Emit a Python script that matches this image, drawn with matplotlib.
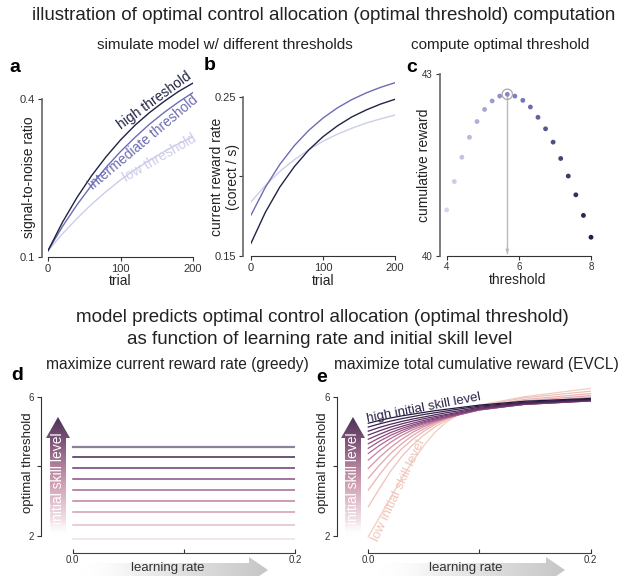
import numpy as np
import matplotlib
matplotlib.use("Agg")
import matplotlib.pyplot as plt
from matplotlib.colors import LinearSegmentedColormap
from matplotlib.patches import Polygon

plt.rcParams['font.family'] = ['Liberation Sans', 'DejaVu Sans']
plt.rcParams['text.color'] = '#222222'
plt.rcParams['axes.edgecolor'] = '#333333'
plt.rcParams['xtick.color'] = '#333333'
plt.rcParams['ytick.color'] = '#333333'

W, H = 626, 576

# --- panel a / b : simulated learning curves ---
trials = [0, 20, 40, 60, 80, 100, 120, 140, 160, 180, 200]
snr_high = [0.112, 0.166, 0.213, 0.254, 0.290, 0.322, 0.350, 0.374, 0.395, 0.414, 0.430]
snr_mid = [0.112, 0.158, 0.199, 0.236, 0.270, 0.300, 0.327, 0.352, 0.374, 0.394, 0.412]
snr_low = [0.112, 0.144, 0.173, 0.200, 0.224, 0.246, 0.266, 0.283, 0.300, 0.315, 0.328]

rr_high = [0.158, 0.1775, 0.1933, 0.2060, 0.2165, 0.2249, 0.2317, 0.2373, 0.2417, 0.2454, 0.2484]
rr_mid = [0.1757, 0.1932, 0.2075, 0.2192, 0.2288, 0.2366, 0.2430, 0.2482, 0.2524, 0.2559, 0.2588]
rr_low = [0.184, 0.1943, 0.2031, 0.2104, 0.2167, 0.2220, 0.2265, 0.2302, 0.2335, 0.2361, 0.2385]

# --- panel c : cumulative reward per threshold ---
thresholds = [4.0, 4.21, 4.42, 4.63, 4.84, 5.05, 5.26, 5.47, 5.68, 5.89,
              6.11, 6.32, 6.53, 6.74, 6.95, 7.16, 7.37, 7.58, 7.79, 8.0]
cum_reward = [40.76, 41.23, 41.63, 41.96, 42.22, 42.42, 42.56, 42.64, 42.67, 42.64,
              42.57, 42.46, 42.29, 42.10, 41.88, 41.61, 41.32, 41.01, 40.67, 40.31]
best_idx = 8

# --- panel d : greedy optimal threshold (flat in learning rate) ---
greedy_lr = [0.0, 0.2]
greedy_thr = [4.56, 4.26, 3.95, 3.65, 3.33, 3.01, 2.68, 2.31, 1.91]  # high -> low skill

# --- panel e : EVCL optimal threshold vs learning rate ---
evcl_lr = [0.0, 0.01, 0.02, 0.03, 0.04, 0.05, 0.06, 0.07, 0.08, 0.1, 0.14, 0.2]
evcl_thr = [  # high -> low initial skill
    [5.24, 5.32, 5.39, 5.45, 5.50, 5.55, 5.60, 5.64, 5.68, 5.76, 5.87, 5.95],
    [5.13, 5.22, 5.30, 5.37, 5.43, 5.49, 5.54, 5.59, 5.64, 5.73, 5.84, 5.93],
    [5.01, 5.12, 5.21, 5.29, 5.36, 5.42, 5.48, 5.54, 5.59, 5.70, 5.82, 5.91],
    [4.90, 5.02, 5.13, 5.22, 5.30, 5.37, 5.43, 5.49, 5.55, 5.67, 5.80, 5.89],
    [4.78, 4.92, 5.05, 5.15, 5.24, 5.32, 5.39, 5.46, 5.52, 5.65, 5.78, 5.88],
    [4.65, 4.82, 4.97, 5.09, 5.19, 5.28, 5.36, 5.43, 5.50, 5.63, 5.78, 5.88],
    [4.52, 4.72, 4.89, 5.03, 5.15, 5.25, 5.33, 5.41, 5.48, 5.62, 5.78, 5.89],
    [4.37, 4.60, 4.80, 4.97, 5.11, 5.22, 5.31, 5.39, 5.47, 5.62, 5.79, 5.91],
    [4.18, 4.45, 4.69, 4.89, 5.05, 5.18, 5.29, 5.39, 5.47, 5.63, 5.81, 5.94],
    [3.94, 4.26, 4.54, 4.78, 4.98, 5.14, 5.27, 5.38, 5.47, 5.65, 5.84, 5.98],
    [3.66, 4.03, 4.37, 4.65, 4.89, 5.08, 5.24, 5.37, 5.48, 5.67, 5.88, 6.03],
    [3.32, 3.76, 4.16, 4.50, 4.78, 5.01, 5.20, 5.36, 5.48, 5.70, 5.92, 6.09],
    [2.84, 3.36, 3.86, 4.28, 4.62, 4.90, 5.13, 5.32, 5.47, 5.73, 5.97, 6.16],
    [1.98, 2.53, 3.10, 3.65, 4.15, 4.60, 4.98, 5.27, 5.46, 5.76, 6.00, 6.24],
]

c_high, c_mid, c_low = '#1f2444', '#6c6cb4', '#cdcdea'

fig = plt.figure(figsize=(W / 100, H / 100), dpi=100)


def add_ax(x0, x1, ytop, ybot):
    return fig.add_axes([x0 / W, 1 - ybot / H, (x1 - x0) / W, (ybot - ytop) / H])


def ftext(x, y, s, **kw):
    fig.text(x / W, 1 - y / H, s, ha=kw.pop('ha', 'center'), va=kw.pop('va', 'center'), **kw)


def style(ax, offset_px, tsize=8):
    for s in ['top', 'right']:
        ax.spines[s].set_visible(False)
    ax.spines['left'].set_position(('outward', offset_px * 0.72))
    ax.spines['left'].set_color('#666666')
    ax.spines['left'].set_linewidth(1.2)
    ax.tick_params(labelsize=tsize, length=3, width=0.8, pad=2)
    ax.patch.set_alpha(0)


# titles
ftext(324, 16, 'illustration of optimal control allocation (optimal threshold) computation', fontsize=13.5)
ftext(225, 45, 'simulate model w/ different thresholds', fontsize=11)
ftext(500, 45, 'compute optimal threshold', fontsize=11)
ftext(322, 317, 'model predicts optimal control allocation (optimal threshold)', fontsize=13.5)
ftext(320, 339, 'as function of learning rate and initial skill level', fontsize=13.5)
ftext(177, 364, 'maximize current reward rate (greedy)', fontsize=11.2)
ftext(476, 364, 'maximize total cumulative reward (EVCL)', fontsize=11.2)
for lab, x, y in [('a', 15, 67), ('b', 210, 66), ('c', 412, 67), ('d', 17, 376), ('e', 322, 378)]:
    ftext(x, y, lab, fontsize=14, fontweight='bold', color='black')

# ---------------- panel a ----------------
ax = add_ax(48, 193, 77.8, 257)
ax.plot(trials, snr_low, color=c_low, lw=1.0)
ax.plot(trials, snr_mid, color=c_mid, lw=1.0)
ax.plot(trials, snr_high, color=c_high, lw=1.0)
ax.set_xlim(0, 200)
ax.set_ylim(0.1, 0.44)
ax.spines['left'].set_bounds(0.1, 0.4)
ax.set_xticks([0, 100, 200])
ax.set_yticks([0.1, 0.4])
style(ax, 6)
ax.text(147, 0.397, 'high threshold', rotation=36, color=c_high, fontsize=10, ha='center', va='center')
ax.text(131, 0.318, 'intermediate threshold', rotation=40, color=c_mid, fontsize=10, ha='center', va='center')
ax.text(154, 0.287, 'low threshold', rotation=30, color=c_low, fontsize=10, ha='center', va='center')
ftext(29, 177, 'signal-to-noise ratio', rotation=90, fontsize=10)
ftext(120, 281, 'trial', fontsize=10)

# ---------------- panel b ----------------
ax = add_ax(251, 395, 80.8, 256)
ax.plot(trials, rr_low, color=c_low, lw=1.0)
ax.plot(trials, rr_mid, color=c_mid, lw=1.0)
ax.plot(trials, rr_high, color=c_high, lw=1.0)
ax.set_xlim(0, 200)
ax.set_ylim(0.15, 0.26)
ax.spines['left'].set_bounds(0.15, 0.25)
ax.set_xticks([0, 100, 200])
ax.set_yticks([0.15, 0.2, 0.25])
ax.set_yticklabels(['0.15', '', '0.25'])
style(ax, 8)
ftext(225, 177, 'current reward rate\n(corect / s)', rotation=90, fontsize=10, linespacing=1.1)
ftext(323, 281, 'trial', fontsize=10)

# ---------------- panel c ----------------
ax = add_ax(446.7, 591, 74.3, 256)
cmap_c = LinearSegmentedColormap.from_list('c', ['#d6d4ec', '#7a7abd', '#1b2040'])
cols = cmap_c(np.linspace(0, 1, len(thresholds)))
ax.plot([thresholds[best_idx], thresholds[best_idx]], [cum_reward[best_idx], 40.05], color='#bbbbbb', lw=1.0)
ax.annotate('', xy=(thresholds[best_idx], 40.0), xytext=(thresholds[best_idx], 40.2),
            arrowprops=dict(arrowstyle='-|>', color='#bbbbbb', lw=0.8, mutation_scale=5))
ax.scatter(thresholds, cum_reward, s=12, c=cols, zorder=3, clip_on=False, linewidths=0)
ax.scatter([thresholds[best_idx]], [cum_reward[best_idx]], s=55, facecolors='none',
           edgecolors='#aaaaaa', linewidths=0.9, zorder=4)
ax.set_xlim(4, 8)
ax.set_ylim(40, 43)
ax.set_xticks([4, 6, 8])
ax.set_yticks([40, 43])
style(ax, 7, tsize=7)
ax.tick_params(axis='x', pad=1)
ftext(424, 165, 'cumulative reward', rotation=90, fontsize=10)
ftext(518, 280, 'threshold', fontsize=10)

# ---------------- panels d / e ----------------
cmap_d = LinearSegmentedColormap.from_list('d', ['#3f2a50', '#7d4a7e', '#b6719a', '#d9a2b6', '#f3dfdf'])
cmap_e = LinearSegmentedColormap.from_list('e', ['#221b3f', '#5a2e63', '#8f4a82', '#c47c9c', '#e8aeb0', '#f4ccbf'])


def style_de(ax, xl):
    ax.set_xlim(xl, 0.2)
    ax.set_ylim(1.52, 6.3)
    ax.spines['left'].set_bounds(2, 6)
    ax.spines['bottom'].set_bounds(0, 0.2)
    ax.set_xticks([0, 0.1, 0.2])
    ax.set_xticklabels(['0.0', '', '0.2'])
    ax.set_yticks([2, 4, 6])
    ax.set_yticklabels(['2', '', '6'])
    for s in ['top', 'right']:
        ax.spines[s].set_visible(False)
    ax.spines['bottom'].set_color('#4a3a4a')
    ax.tick_params(labelsize=7, length=3, width=0.8, pad=2)
    ax.tick_params(axis='x', direction='in', pad=1.5)
    ax.patch.set_alpha(0)


ax = add_ax(40.7, 295, 386.3, 552.7)
n = len(greedy_thr)
for i, thr in enumerate(greedy_thr):
    if i == 0:
        col, lw = '#8c8298', 1.6
    else:
        col, lw = cmap_d((i - 1) / (n - 2)), 1.1
    ax.plot(greedy_lr, [thr, thr], color=col, lw=lw)
style_de(ax, -0.0288)
ftext(28, 463, 'optimal threshold', rotation=90, fontsize=9.5)

ax = add_ax(336.7, 590.7, 386.3, 552.7)
n = len(evcl_thr)
for i in range(n - 1, -1, -1):
    ax.plot(evcl_lr, evcl_thr[i], color=cmap_e(i / (n - 1)), lw=0.9)
style_de(ax, -0.0284)
ax.text(0.050, 5.68, 'high initial skill level', rotation=11, color='#2a2248', fontsize=9.5,
        ha='center', va='center')
ax.text(0.027, 3.3, 'low initial skill level', rotation=65, color='#f0c4b8', fontsize=9.5,
        ha='center', va='center')
ftext(323, 463, 'optimal threshold', rotation=90, fontsize=9.5)

# ---------------- gradient arrows (decoration, figure pixel space) ----------------
ov = fig.add_axes([0, 0, 1, 1])
ov.set_xlim(0, W)
ov.set_ylim(H, 0)
ov.axis('off')


def grad_arrow(poly, extent, stops, vertical):
    cmap = LinearSegmentedColormap.from_list('g', stops)
    g = np.linspace(0, 1, 256)
    arr = g.reshape(-1, 1) if vertical else g.reshape(1, -1)
    im = ov.imshow(arr, cmap=cmap, extent=extent, origin='lower', aspect='auto',
                   interpolation='bilinear', zorder=2)
    p = Polygon(poly, closed=True, facecolor='none', edgecolor='none', transform=ov.transData)
    ov.add_patch(p)
    im.set_clip_path(p)


def vertical_arrow(cx):
    ty, hy, by, sw, hw = 417, 438, 536, 8, 12
    poly = [(cx - sw, by), (cx - sw, hy), (cx - hw, hy), (cx, ty), (cx + hw, hy), (cx + sw, hy), (cx + sw, by)]
    stops = [(0.0, (1, 1, 1, 0)), (0.12, '#f3e4ea'), (0.45, '#cf9db1'), (0.78, '#84577c'), (1.0, '#4a3356')]
    grad_arrow(poly, (cx - hw, cx + hw, by, ty), stops, True)
    ov.text(cx, 478, 'initial skill level', rotation=90, color='white', fontsize=10,
            ha='center', va='center', zorder=3)


def horizontal_arrow(x0, x1, hx):
    cy, sw, hw = 570, 7, 13
    poly = [(x0, cy - sw), (hx, cy - sw), (hx, cy - hw), (x1, cy), (hx, cy + hw), (hx, cy + sw), (x0, cy + sw)]
    stops = [(0.0, (1, 1, 1, 0)), (0.3, '#f0f0f0'), (1.0, '#c6c6c6')]
    grad_arrow(poly, (x0, x1, cy + hw, cy - hw), stops, False)
    ov.text((x0 + x1) / 2 - 6, 568, 'learning rate', color='#333333', fontsize=9.5,
            ha='center', va='center', zorder=3)


vertical_arrow(58)
vertical_arrow(353)
horizontal_arrow(80, 268, 249)
horizontal_arrow(378, 565, 546)
ov.set_xlim(0, W)
ov.set_ylim(H, 0)

fig.savefig('out.png', dpi=100)
